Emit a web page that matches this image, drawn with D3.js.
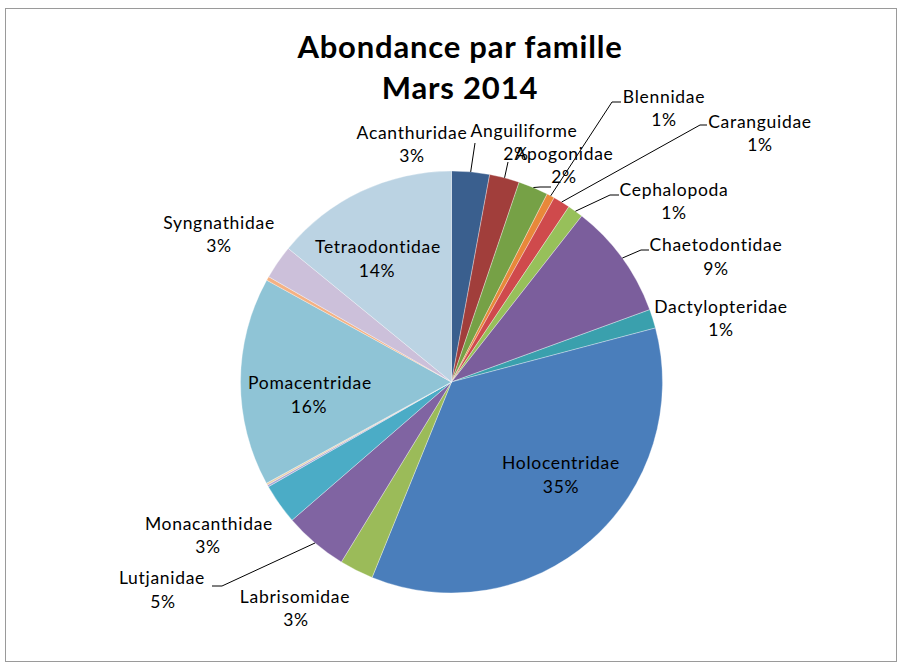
<!DOCTYPE html>
<html>
<head>
<meta charset="utf-8">
<script src="https://cdn.jsdelivr.net/npm/d3@7"></script>
<style>
  html, body { margin: 0; padding: 0; background: #fff; }
  svg { display: block; }
  text { font-family: Lato, "Open Sans", sans-serif; fill: #000; }
</style>
</head>
<body>
<svg id="chart" width="903" height="668"></svg>
<script>
// ---- data ----
const titleLines = ["Abondance par famille", "Mars 2014"];
const categories = [
  "Acanthuridae", "Anguiliforme", "Apogonidae", "Blennidae", "Caranguidae",
  "Cephalopoda", "Chaetodontidae", "Dactylopteridae", "Holocentridae",
  "Labrisomidae", "Lutjanidae", "Monacanthidae", "", "", "Pomacentridae",
  "", "Syngnathidae", "Tetraodontidae"
];
const values = [
  2.9, 2.3, 2.3, 0.6, 1.3,
  1.2, 8.85, 1.45, 35.3,
  2.6, 4.9, 3.1, 0.15, 0.15, 16.0,
  0.3, 2.6, 14.1
];
const colors = [
  "#3A5F8E", "#A13E3B", "#76A146", "#E8883A", "#CF4A4C",
  "#97C05A", "#7B5E9C", "#3AA0AD", "#4A7EBB",
  "#9BBB59", "#8064A2", "#4BACC6", "#A7A6D6", "#E9CFA9", "#8FC4D6",
  "#F4B183", "#CCC0DA", "#BBD3E3"
];

// ---- label layout (Excel "best fit" placement) ----
const labelLayout = {
  "Acanthuridae":   {nx: 412, ny: 139, px: 412, py: 162, leader: [[475, 143]]},
  "Anguiliforme":   {nx: 524, ny: 137, px: 516, py: 160, leader: [[508, 162]]},
  "Apogonidae":     {nx: 564, ny: 160, px: 564, py: 183, leader: [[540, 187], [551, 187]]},
  "Blennidae":      {nx: 664, ny: 103, px: 664, py: 126, leader: [[612, 102], [621, 102]]},
  "Caranguidae":    {nx: 760, ny: 128, px: 760, py: 151, leader: [[700, 125], [707, 125]]},
  "Cephalopoda":    {nx: 674, ny: 196, px: 674, py: 219, leader: [[610, 195], [619, 195]]},
  "Chaetodontidae": {nx: 716, ny: 251, px: 716, py: 275, leader: [[641, 250], [649, 250]]},
  "Dactylopteridae":{nx: 721, ny: 313, px: 721, py: 336},
  "Holocentridae":  {nx: 561, ny: 469, px: 561, py: 493},
  "Labrisomidae":   {nx: 295, ny: 603, px: 296, py: 626},
  "Lutjanidae":     {nx: 162, ny: 584, px: 163, py: 608, leader: [[222, 586], [212, 586]]},
  "Monacanthidae":  {nx: 209, ny: 530, px: 208, py: 553},
  "Pomacentridae":  {nx: 310, ny: 389, px: 309, py: 413},
  "Syngnathidae":   {nx: 219, ny: 229, px: 219, py: 252},
  "Tetraodontidae": {nx: 378, ny: 253, px: 377, py: 277}
};

const cx = 451.5, cy = 382, R = 211;

const svg = d3.select("#chart");

// chart frame
svg.append("rect")
  .attr("x", 5.5).attr("y", 8.5)
  .attr("width", 891).attr("height", 653)
  .attr("fill", "#fff")
  .attr("stroke", "#9a9a9a").attr("stroke-width", 1);

// title
svg.append("g").selectAll("text")
  .data(titleLines)
  .join("text")
  .attr("x", 460)
  .attr("y", (d, i) => 58 + i * 40.5)
  .attr("text-anchor", "middle")
  .attr("font-weight", "bold")
  .attr("font-size", "31px")
  .attr("letter-spacing", "0.8px")
  .text(d => d);

const data = categories.map((c, i) => ({name: c, v: values[i], color: colors[i]}));
const total = d3.sum(values);

const pie = d3.pie().sort(null).value(d => d.v).startAngle(0).endAngle(2 * Math.PI);
const arcs = pie(data);
const arc = d3.arc().innerRadius(0).outerRadius(R);

const g = svg.append("g").attr("transform", `translate(${cx},${cy})`);
g.selectAll("path")
  .data(arcs)
  .join("path")
  .attr("d", arc)
  .attr("fill", d => d.data.color)
  .attr("stroke", "rgba(255,255,255,0.55)")
  .attr("stroke-width", 0.6);

// leader lines
const lab = svg.append("g");
arcs.forEach(a => {
  const L = labelLayout[a.data.name];
  if (!L || !L.leader) return;
  const mid = (a.startAngle + a.endAngle) / 2;
  const p0 = [cx + R * Math.sin(mid), cy - R * Math.cos(mid)];
  lab.append("path")
    .attr("d", d3.line()([p0].concat(L.leader)))
    .attr("fill", "none")
    .attr("stroke", "#000")
    .attr("stroke-width", 1);
});

// labels
arcs.forEach(a => {
  const L = labelLayout[a.data.name];
  if (!L) return;
  const pct = Math.round(a.data.v / total * 100) + "%";
  [[a.data.name, L.nx, L.ny], [pct, L.px, L.py]].forEach(([t, x, y]) => {
    lab.append("text")
      .attr("x", x).attr("y", y)
      .attr("text-anchor", "middle")
      .attr("font-size", "17.5px")
      .attr("letter-spacing", "0.7px")
      .text(t);
  });
});
</script>
</body>
</html>
